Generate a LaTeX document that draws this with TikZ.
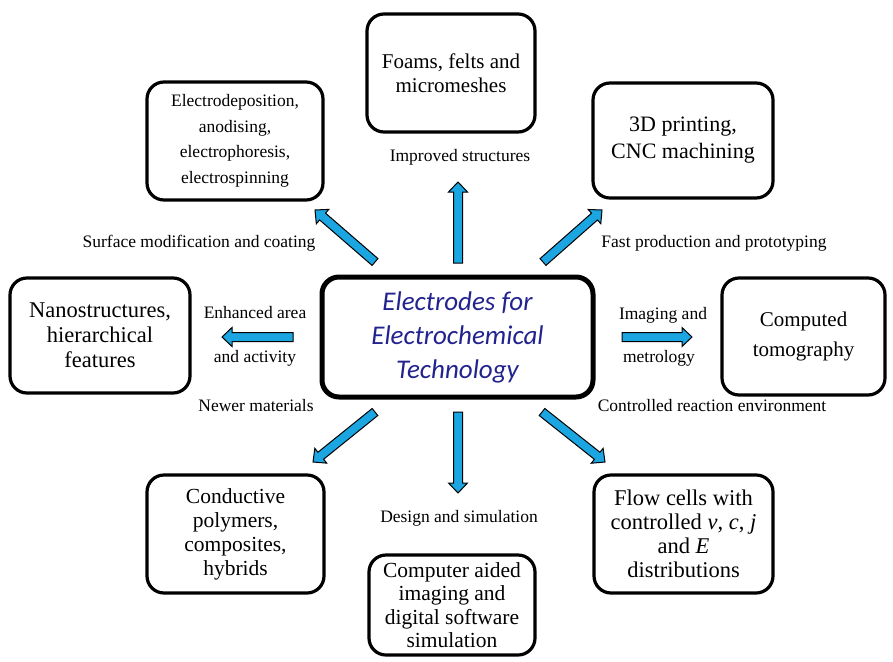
\documentclass[tikz,border=0pt]{standalone}
\usepackage{fontspec}
\setmainfont{Liberation Serif}
\newfontfamily\calib{Carlito}
\usetikzlibrary{calc}
\definecolor{arrowcyan}{HTML}{1BA6E2}
\definecolor{ctrblue}{HTML}{23238F}
\tikzset{
  box/.style={draw=black, line width=3.2pt, rounded corners=17pt, align=center, inner sep=0pt, font=\fontsize{21.5}{24}\selectfont},
  lbl/.style={font=\fontsize{17.5}{20}\selectfont, inner sep=0pt, align=center},
  barrow/.style={fill=arrowcyan, draw=black, line width=1pt, line join=miter},
}
\newcommand{\blockarrow}[2]{%
  \coordinate (tmpH) at ($(#2)!10pt!(#1)$);
  \path[barrow] ($(#1)!4.5pt!90:(#2)$) -- ($(tmpH)!4.5pt!90:(#2)$) -- ($(tmpH)!9.5pt!90:(#2)$) -- (#2)
    -- ($(tmpH)!9.5pt!-90:(#2)$) -- ($(tmpH)!4.5pt!-90:(#2)$) -- ($(#1)!4.5pt!-90:(#2)$) -- cycle;}
\begin{document}
\begin{tikzpicture}[x=1pt,y=-1pt]
\path[fill=white] (0,0) rectangle (893,661);
\useasboundingbox (0,0) rectangle (893,661);

% boxes
\node[box, minimum width=168pt, minimum height=118pt, font=\fontsize{21}{24}\selectfont] (foams) at (451,73) {Foams, felts and\\micromeshes};
\node[box, minimum width=176pt, minimum height=118pt, font=\fontsize{17.5}{25.5}\selectfont] (electro) at (235,141) {Electrodeposition,\\anodising,\\electrophoresis,\\electrospinning};
\node[box, minimum width=180pt, minimum height=115pt, font=\fontsize{22}{27}\selectfont] (print) at (683,140.5) {3D printing,\\CNC machining};
\node[box, minimum width=180pt, minimum height=115pt, font=\fontsize{22.5}{25}\selectfont] (nano) at (100,335.5) {Nanostructures,\\hierarchical\\features};
\node[box, minimum width=271pt, minimum height=120pt, line width=5pt, font=\calib\itshape\fontsize{27}{34}\selectfont, text=ctrblue] (center) at (457.5,337) {Electrodes for\\Electrochemical\\Technology};
\node[box, minimum width=163pt, minimum height=117pt, font=\fontsize{21}{30}\selectfont] (ct) at (803.5,336.5) {Computed\\tomography};
\node[box, minimum width=177pt, minimum height=118pt] (cond) at (235.5,534) {Conductive\\polymers,\\composites,\\hybrids};
\node[box, minimum width=166pt, minimum height=100pt, font=\fontsize{21.5}{23.5}\selectfont] (comp) at (452,605) {Computer aided\\imaging and\\digital software\\simulation};
\node[box, minimum width=179pt, minimum height=118pt, font=\fontsize{22.5}{24}\selectfont] (flow) at (683.5,534) {Flow cells with\\controlled \textit{v}, \textit{c}, \textit{j}\\and \textit{E}\\distributions};

% labels
\node[lbl] (l1) at (460,157) {Improved structures};
\node[lbl] (l2) at (199,243) {Surface modification and coating};
\node[lbl] (l3) at (714,243) {Fast production and prototyping};
\node[lbl] (l4) at (255,313) {Enhanced area};
\node[lbl] (l5) at (255,358) {and activity};
\node[lbl] (l6) at (663,315) {Imaging and};
\node[lbl] (l7) at (659,358) {metrology};
\node[lbl] (l8) at (256,406) {Newer materials};
\node[lbl] (l9) at (712,406) {Controlled reaction environment};
\node[lbl] (l10) at (459,518) {Design and simulation};

% arrow endpoints
\coordinate (a1s) at (458,263); \coordinate (a1e) at (458,182);
\coordinate (a2s) at (375,262); \coordinate (a2e) at (315,210);
\coordinate (a3s) at (543,262); \coordinate (a3e) at (602,210);
\coordinate (a4s) at (293,337); \coordinate (a4e) at (222,337);
\coordinate (a5s) at (622,337); \coordinate (a5e) at (692,337);
\coordinate (a6s) at (375,412); \coordinate (a6e) at (313,462);
\coordinate (a7s) at (458,412); \coordinate (a7e) at (458,493);
\coordinate (a8s) at (542,412); \coordinate (a8e) at (605,462);

\blockarrow{a1s}{a1e}
\blockarrow{a2s}{a2e}
\blockarrow{a3s}{a3e}
\blockarrow{a4s}{a4e}
\blockarrow{a5s}{a5e}
\blockarrow{a6s}{a6e}
\blockarrow{a7s}{a7e}
\blockarrow{a8s}{a8e}
\end{tikzpicture}
\end{document}
